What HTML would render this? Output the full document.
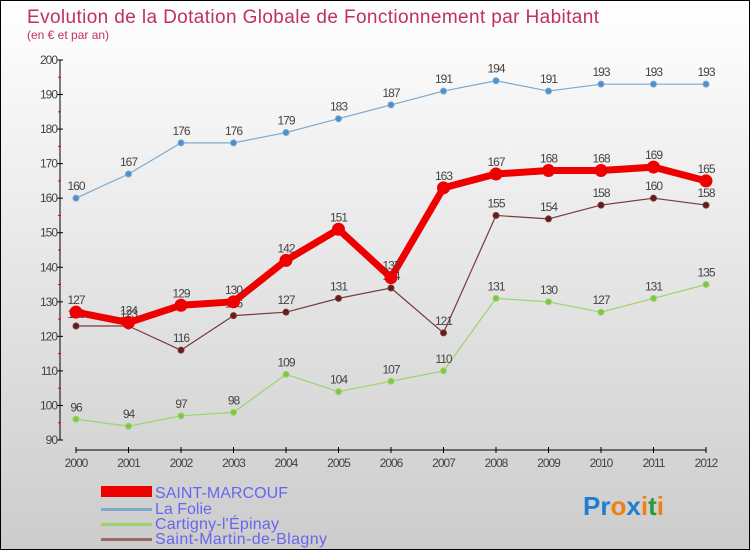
<!DOCTYPE html>
<html><head><meta charset="utf-8"><style>
body{margin:0}
#c{width:748px;height:548px;border:1px solid #000;background:linear-gradient(#fff,#ccc);position:relative;font-family:"Liberation Sans",sans-serif;overflow:hidden}
</style></head><body>
<div id="c">
<svg id="s" width="748" height="548" style="position:absolute;left:0;top:0">
<text x="26" y="22" font-size="19" fill="#c0305e" textLength="572">Evolution de la Dotation Globale de Fonctionnement par Habitant</text>
<text x="26" y="38" font-size="12" fill="#c0305e">(en € et par an)</text>
<g id="axes"></g><g id="series"></g>
<g>
<rect x="100" y="485" width="51" height="11" fill="#e00"/>
<text x="154" y="497" font-size="16" fill="#6666ee" textLength="133">SAINT-MARCOUF</text>
<rect x="100" y="507" width="51" height="3" fill="#7fa9cc"/>
<text x="154" y="513" font-size="16" fill="#6666ee">La Folie</text>
<rect x="100" y="522" width="51" height="3" fill="#9dd36e"/>
<text x="154" y="528" font-size="16" fill="#6666ee" textLength="124">Cartigny-l'Épinay</text>
<rect x="100" y="537" width="51" height="3" fill="#9a6a6a"/>
<text x="154" y="543" font-size="16" fill="#6666ee" textLength="172">Saint-Martin-de-Blagny</text>
</g>
<text x="582" y="514" font-size="26" font-weight="bold"><tspan fill="#1e7fd0">Pr</tspan><tspan fill="#f08010">o</tspan><tspan fill="#1e7fd0">x</tspan><tspan fill="#f08010">i</tspan><tspan fill="#2a9a3a">t</tspan><tspan fill="#f08010">i</tspan></text>
</svg>
</div>
<script>
const years=[2000,2001,2002,2003,2004,2005,2006,2007,2008,2009,2010,2011,2012];
const yTicks=[90,100,110,120,130,140,150,160,170,180,190,200];
const saintMarcouf=[127,124,129,130,142,151,137,163,167,168,168,169,165];
const laFolie=[160,167,176,176,179,183,187,191,194,191,193,193,193];
const cartigny=[96,94,97,98,109,104,107,110,131,130,127,131,135];
const saintMartin=[123,123,116,126,127,131,134,121,155,154,158,160,158];
const NS="http://www.w3.org/2000/svg";
const X=i=>75+i*52.5, Y=v=>439-(v-90)*380/110;
function mk(t,a,p){const e=document.createElementNS(NS,t);for(const k in a)e.setAttribute(k,a[k]);p.appendChild(e);return e;}
const ax=document.getElementById('axes'), sg=document.getElementById('series');
let l=mk('line',{x1:59,y1:Y(200),x2:59,y2:Y(90),stroke:'#000'},ax);

l=mk('line',{x1:75,y1:449,x2:705,y2:449,stroke:'#000'},ax);

yTicks.forEach(v=>{mk('line',{x1:56,x2:62,y1:Y(v),y2:Y(v),stroke:'#000'},ax);
 if(v<200)mk('line',{x1:57,x2:60,y1:Y(v+5),y2:Y(v+5),stroke:'#e00'},ax);
 const t=mk('text',{x:56,y:Y(v)+4,'font-size':12,'text-anchor':'end',fill:'#444','letter-spacing':'-1'},ax);t.textContent=v;
 });
years.forEach((y,i)=>{mk('line',{x1:X(i),x2:X(i),y1:446,y2:452,stroke:'#000'},ax);
 const t=mk('text',{x:X(i),y:466,'font-size':12,'text-anchor':'middle',fill:'#444','letter-spacing':'-1'},ax);t.textContent=y;
 });
function series(d,col,w,r,name,dot){
 const p=mk('polyline',{points:d.map((v,i)=>X(i)+','+Y(v)).join(' '),fill:'none',stroke:col,'stroke-width':w,'stroke-linejoin':'round'},sg);
 
 d.forEach((v,i)=>{const c=mk('circle',{cx:X(i),cy:Y(v),r:r,fill:dot,stroke:col,'stroke-width':1},sg);
  
  const t=mk('text',{x:X(i),y:Y(v)-8,'font-size':12,'text-anchor':'middle',fill:'#444','letter-spacing':'-1'},sg);t.textContent=v;
  });
}
series(laFolie,'#7fa9cc',1.2,3,'la-folie','#4a90d0');
series(cartigny,'#9dd36e',1.2,3,'cartigny','#7cc840');
series(saintMartin,'#7a3a3a',1.2,3,'saint-martin','#6a1a1a');
series(saintMarcouf,'#e00',7,6,'saint-marcouf','#e00');
</script>
</body></html>
